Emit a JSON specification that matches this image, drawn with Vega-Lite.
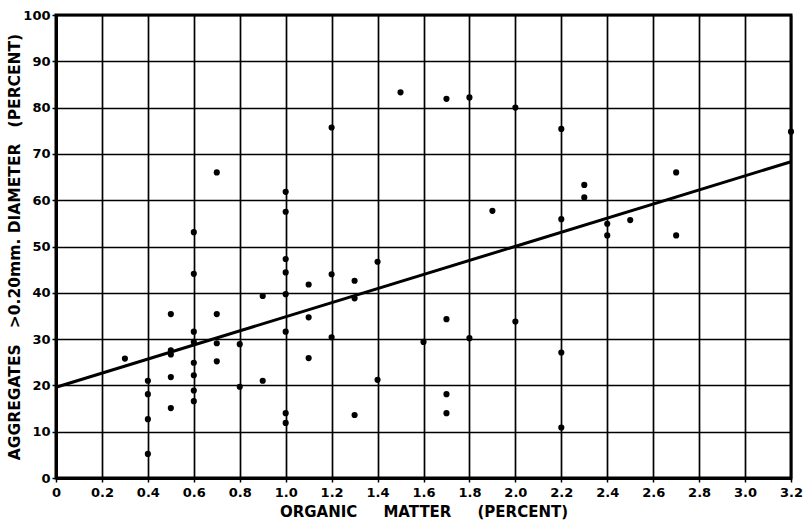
{
  "$schema": "https://vega.github.io/schema/vega-lite/v6.json",
  "autosize": {"type": "none"},
  "padding": {"left": 56, "top": 15, "right": 15, "bottom": 46},
  "width": 735,
  "height": 463,
  "background": "white",
  "config": {
    "view": {"stroke": "black", "strokeWidth": 3},
    "axis": {
      "domainColor": "black", "domainWidth": 3,
      "gridColor": "black", "gridWidth": 1.7, "gridOpacity": 1,
      "tickColor": "black", "tickSize": 4, "tickWidth": 1.5,
      "labelFont": "DejaVu Sans", "labelFontWeight": "bold", "labelFontSize": 13, "labelColor": "black",
      "titleFont": "DejaVu Sans", "titleFontWeight": "bold", "titleFontSize": 15, "titleColor": "black"
    }
  },
  "encoding": {
    "x": {"field": "om", "type": "quantitative",
          "scale": {"domain": [0, 3.2], "nice": false, "zero": false},
          "axis": {"values": [0, 0.2, 0.4, 0.6, 0.8, 1.0, 1.2, 1.4, 1.6, 1.8, 2.0, 2.2, 2.4, 2.6, 2.8, 3.0, 3.2],
                   "labelExpr": "datum.value == 0 ? '0' : format(datum.value, '.1f')",
                   "labelOverlap": false,
                   "title": "ORGANIC\u00a0\u00a0\u00a0\u00a0\u00a0MATTER\u00a0\u00a0\u00a0\u00a0\u00a0(PERCENT)", "labelPadding": 4, "titlePadding": 5, "labelFlush": false}},
    "y": {"field": "agg", "type": "quantitative",
          "scale": {"domain": [0, 100], "nice": false},
          "axis": {"values": [0, 10, 20, 30, 40, 50, 60, 70, 80, 90, 100], "labelOverlap": false,
                   "title": "AGGREGATES\u00a0\u00a0\u00a0>0.20mm.\u00a0DIAMETER\u00a0\u00a0\u00a0(PERCENT)", "titleFontSize": 15.5, "labelPadding": 2, "titlePadding": 0, "labelFlush": false}}
  },
  "layer": [
    {
      "data": {"values": [
        {"om": 0.3, "agg": 25.8},
        {"om": 0.4, "agg": 21.0}, {"om": 0.4, "agg": 18.1}, {"om": 0.4, "agg": 12.7}, {"om": 0.4, "agg": 5.2},
        {"om": 0.5, "agg": 35.4}, {"om": 0.5, "agg": 27.6}, {"om": 0.5, "agg": 26.7}, {"om": 0.5, "agg": 21.8}, {"om": 0.5, "agg": 15.1},
        {"om": 0.6, "agg": 53.1}, {"om": 0.6, "agg": 44.1}, {"om": 0.6, "agg": 31.6}, {"om": 0.6, "agg": 29.4}, {"om": 0.6, "agg": 24.9}, {"om": 0.6, "agg": 22.2}, {"om": 0.6, "agg": 18.9}, {"om": 0.6, "agg": 16.6},
        {"om": 0.7, "agg": 66.0}, {"om": 0.7, "agg": 35.4}, {"om": 0.7, "agg": 29.1}, {"om": 0.7, "agg": 25.2},
        {"om": 0.8, "agg": 28.9}, {"om": 0.8, "agg": 19.7},
        {"om": 0.9, "agg": 39.3}, {"om": 0.9, "agg": 21.0},
        {"om": 1.0, "agg": 61.8}, {"om": 1.0, "agg": 57.5}, {"om": 1.0, "agg": 47.3}, {"om": 1.0, "agg": 44.4}, {"om": 1.0, "agg": 39.7}, {"om": 1.0, "agg": 31.6}, {"om": 1.0, "agg": 14.0}, {"om": 1.0, "agg": 11.9},
        {"om": 1.1, "agg": 41.8}, {"om": 1.1, "agg": 34.7}, {"om": 1.1, "agg": 25.9},
        {"om": 1.2, "agg": 75.7}, {"om": 1.2, "agg": 44.0}, {"om": 1.2, "agg": 30.4},
        {"om": 1.3, "agg": 42.6}, {"om": 1.3, "agg": 38.8}, {"om": 1.3, "agg": 13.6},
        {"om": 1.4, "agg": 46.7}, {"om": 1.4, "agg": 21.2},
        {"om": 1.5, "agg": 83.3},
        {"om": 1.6, "agg": 29.4},
        {"om": 1.7, "agg": 81.9}, {"om": 1.7, "agg": 34.3}, {"om": 1.7, "agg": 18.1}, {"om": 1.7, "agg": 14.0},
        {"om": 1.8, "agg": 82.2}, {"om": 1.8, "agg": 30.2},
        {"om": 1.9, "agg": 57.7},
        {"om": 2.0, "agg": 80.0}, {"om": 2.0, "agg": 33.8},
        {"om": 2.2, "agg": 75.4}, {"om": 2.2, "agg": 55.9}, {"om": 2.2, "agg": 27.1}, {"om": 2.2, "agg": 10.9},
        {"om": 2.3, "agg": 63.3}, {"om": 2.3, "agg": 60.6},
        {"om": 2.4, "agg": 54.9}, {"om": 2.4, "agg": 52.4},
        {"om": 2.5, "agg": 55.7},
        {"om": 2.7, "agg": 66.0}, {"om": 2.7, "agg": 52.4},
        {"om": 3.2, "agg": 74.8}
      ]},
      "mark": {"type": "point", "filled": true, "shape": "circle", "color": "black", "size": 38, "opacity": 1, "clip": false}
    },
    {
      "data": {"values": [{"om": 0, "agg": 19.6}, {"om": 3.2, "agg": 68.3}]},
      "mark": {"type": "line", "color": "black", "strokeWidth": 3}
    }
  ]
}
